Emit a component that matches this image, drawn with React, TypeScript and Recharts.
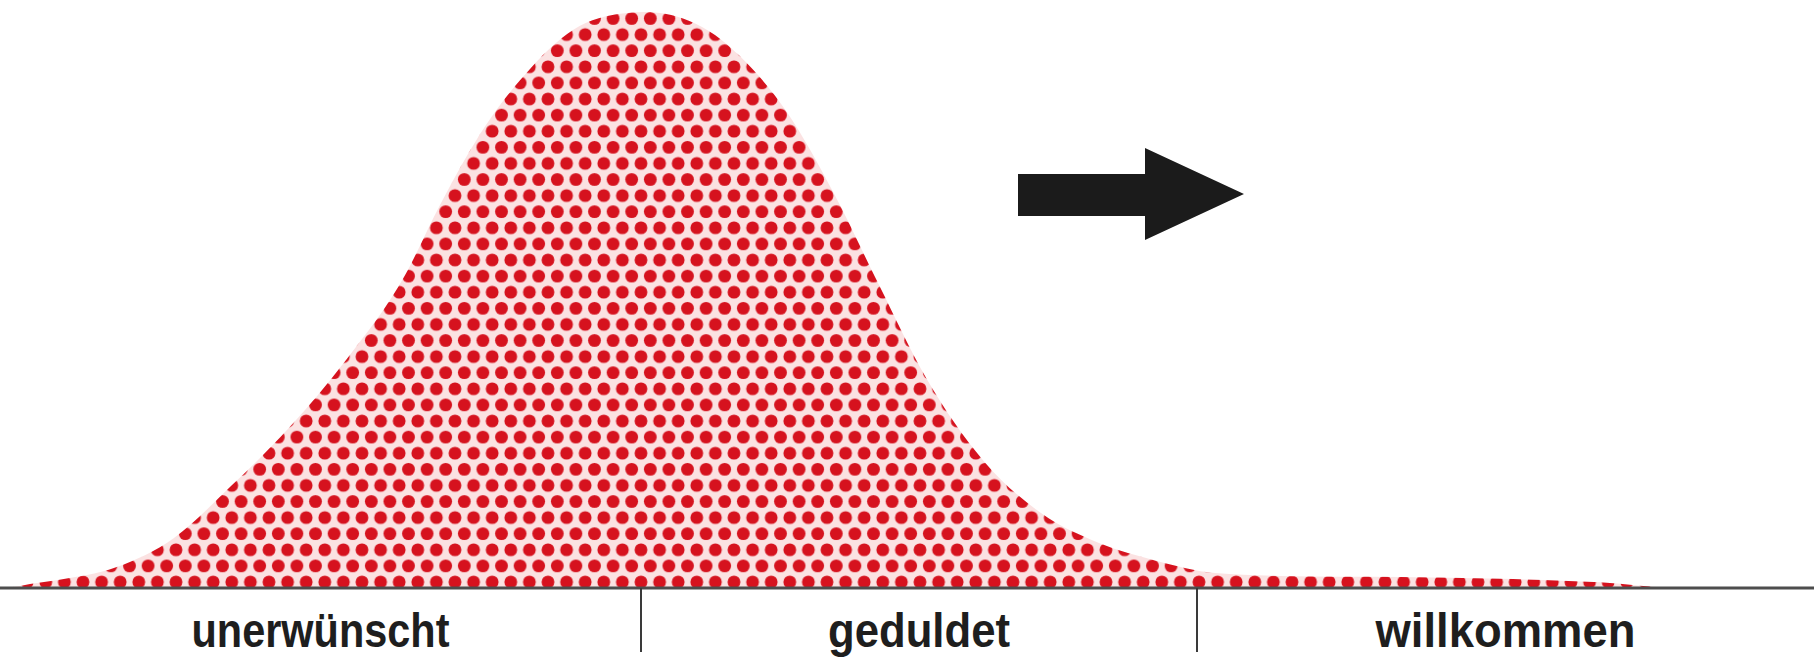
import { AreaChart, Area, XAxis, YAxis, ReferenceDot } from 'recharts';

// position along the scale (0 = left edge, 1814 = right edge)
const positions = [
  0, 15, 30, 58, 116, 174, 231, 289, 347, 405, 440, 486, 532, 555, 580, 605, 625, 645, 665, 690,
  715, 740, 787, 833, 879, 926, 983, 1041, 1099, 1157, 1215, 1280, 1400, 1500, 1600, 1680, 1814,
];
// share of the peak, in percent
const shares = [
  0, 0.2, 0.7, 1.4, 3.6, 8.7, 17.7, 27.8, 39.8, 54.3, 66.5, 80.4, 90.5, 94.5, 97.6, 99.2, 99.8, 100,
  99.7, 98.4, 96.0, 92.3, 82.6, 68.8, 52.6, 36.5, 22.2, 13.0, 7.8, 4.7, 2.6, 2.1, 1.9, 1.6, 1.0, 0, 0,
];

const zoneNames = ['unerwünscht', 'geduldet', 'willkommen'];
const zoneEdges = [0, 641, 1197, 1814];
const zoneBorders = zoneEdges.slice(1, -1);
const zoneCenters = zoneNames.map((_, i) => (zoneEdges[i] + zoneEdges[i + 1]) / 2);
const labelWidths = [258, 182, 260];

const arrowTip = { x: 1244, share: 68.4 };

const data = positions.map((x, i) => ({ x, share: shares[i] }));

const RED = '#d6121e';

function ZoneTick(props: any) {
  const { x, y, payload } = props;
  const v = payload.value;
  if (zoneBorders.includes(v)) {
    return <line x1={x} x2={x} y1={y} y2={y + 64} stroke="#3a3a3a" strokeWidth={2} />;
  }
  const idx = zoneCenters.indexOf(v);
  return (
    <text
      x={x}
      y={y + 59}
      textAnchor="middle"
      fill="#1e1e1e"
      fontSize={49}
      fontWeight={700}
      textLength={labelWidths[idx]}
      lengthAdjust="spacingAndGlyphs"
      fontFamily="'Liberation Sans', Arial, sans-serif"
    >
      {zoneNames[idx]}
    </text>
  );
}

function Arrow({ cx, cy }: any) {
  // tip at (cx, cy)
  const pts = [
    [cx, cy],
    [cx - 99, cy - 46],
    [cx - 99, cy - 20],
    [cx - 226, cy - 20],
    [cx - 226, cy + 22],
    [cx - 99, cy + 22],
    [cx - 99, cy + 46],
  ]
    .map((p) => p.join(','))
    .join(' ');
  return <polygon points={pts} fill="#1b1b1b" />;
}

export default function App() {
  return (
    <div style={{ position: 'absolute', left: 0, top: 0, background: '#fff' }}>
      <AreaChart width={1814} height={662} data={data} margin={{ top: 12, right: 0, bottom: 0, left: 0 }}>
        <defs>
          <pattern
            id="dots"
            patternUnits="userSpaceOnUse"
            width={18.6}
            height={32.2}
            patternTransform="translate(641 582)"
          >
            <rect width={18.6} height={32.2} fill="#fbe2e2" />
            <circle cx={0} cy={0} r={6.4} fill={RED} />
            <circle cx={18.6} cy={0} r={6.4} fill={RED} />
            <circle cx={0} cy={32.2} r={6.4} fill={RED} />
            <circle cx={18.6} cy={32.2} r={6.4} fill={RED} />
            <circle cx={9.3} cy={16.1} r={6.4} fill={RED} />
          </pattern>
        </defs>
        <XAxis
          dataKey="x"
          type="number"
          domain={[0, 1814]}
          ticks={[...zoneBorders, ...zoneCenters]}
          interval={0}
          height={74}
          tickSize={0}
          tickMargin={0}
          tickLine={false}
          axisLine={{ stroke: '#4d4d4d', strokeWidth: 3 }}
          tick={<ZoneTick />}
        />
        <YAxis hide domain={[0, 100]} allowDataOverflow />
        <Area
          type="monotone"
          dataKey="share"
          stroke="none"
          fill="url(#dots)"
          fillOpacity={1}
          dot={false}
          activeDot={false}
          isAnimationActive={false}
        />
        <ReferenceDot x={arrowTip.x} y={arrowTip.share} r={0} shape={<Arrow />} />
      </AreaChart>
    </div>
  );
}
